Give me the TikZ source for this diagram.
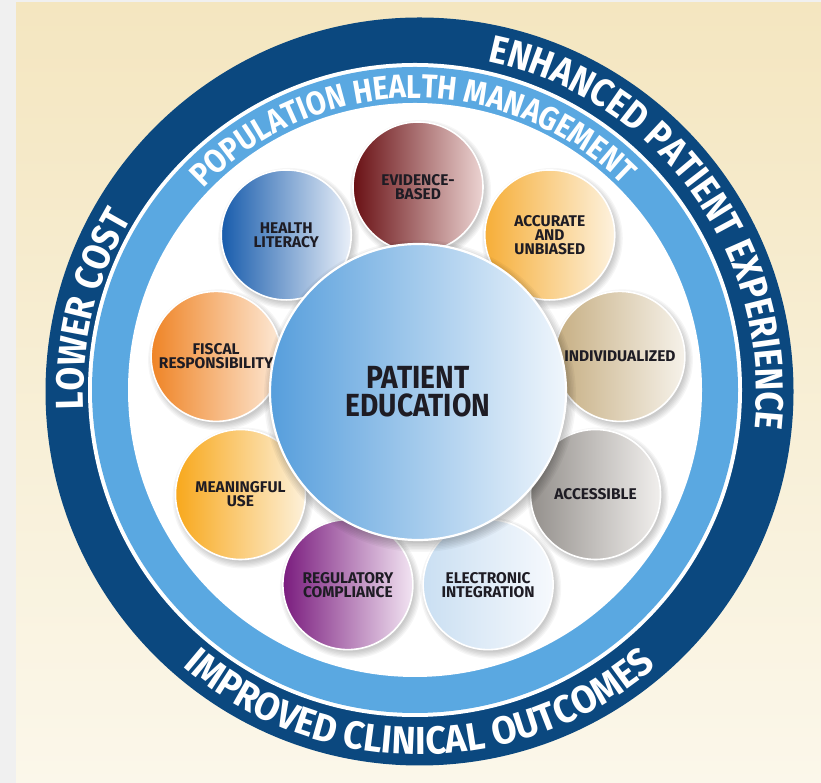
\documentclass[tikz,border=0pt]{standalone}
\usepackage{fontspec}
\newfontfamily\petalfont{Fira Sans}
\newfontfamily\ringfont[FakeStretch=0.88]{Fira Sans}
\newfontfamily\ringfontb[FakeStretch=0.93]{Fira Sans}
\usetikzlibrary{decorations.text}
\definecolor{bggray}{RGB}{240,240,240}
\definecolor{bgtop}{RGB}{244,230,192}
\definecolor{bgbot}{RGB}{251,247,234}
\definecolor{navy}{RGB}{11,72,127}
\definecolor{ltblue}{RGB}{90,168,225}
\definecolor{txtdark}{RGB}{30,28,36}
\definecolor{evL}{RGB}{105,16,20}\definecolor{evR}{RGB}{236,212,210}
\definecolor{acL}{RGB}{246,174,56}\definecolor{acR}{RGB}{253,242,222}
\definecolor{inL}{RGB}{198,174,130}\definecolor{inR}{RGB}{246,242,234}
\definecolor{asL}{RGB}{148,144,140}\definecolor{asR}{RGB}{241,239,237}
\definecolor{elL}{RGB}{202,223,242}\definecolor{elR}{RGB}{246,249,253}
\definecolor{reL}{RGB}{122,28,126}\definecolor{reR}{RGB}{242,228,242}
\definecolor{meL}{RGB}{248,168,28}\definecolor{meR}{RGB}{253,241,218}
\definecolor{fiL}{RGB}{239,132,38}\definecolor{fiR}{RGB}{253,233,214}
\definecolor{heL}{RGB}{24,92,172}\definecolor{heR}{RGB}{234,240,249}
\definecolor{ctL}{RGB}{86,158,220}\definecolor{ctR}{RGB}{240,246,252}
\begin{document}
\begin{tikzpicture}[x=1pt,y=1pt,
  petal/.style={circle, minimum size=130pt, inner sep=0pt, draw=white, line width=1.6pt,
    align=center, text=txtdark, font=\petalfont\bfseries\fontsize{15.5}{14}\selectfont},
  ringtext/.style={decorate, decoration={text along path, text align=center, text color=white, text={#1}}}
]
\useasboundingbox (0,0) rectangle (821,783);
\fill[bggray] (0,0) rectangle (821,783);
\shade[top color=bgtop, bottom color=bgbot] (16,0) rectangle (821,780);

\coordinate (C) at (418,391);
\coordinate (N) at (419.5,391.5);
\coordinate (L) at (415,393);

\fill[navy] (N) circle (374);
\fill[white] (L) circle (327);
\fill[ltblue] (L) circle (323);
\fill[white] (L) circle (287);

% soft shadows
\foreach \ang in {90,50,10,-30,-70,-110,-150,170,130}{
  \foreach \k in {0,...,5}{
    \fill[black,opacity=0.035] ([shift={(\ang:205)}]C) ++(2.5,-3.5) circle ({64+\k*1.3});
  }
}

\node[petal, left color=evL, right color=evR] (evidence) at ([shift={(90:205)}]C) {EVIDENCE-\\BASED};
\node[petal, left color=acL, right color=acR] (accurate) at ([shift={(50:205)}]C) {ACCURATE\\AND\\UNBIASED};
\node[petal, left color=inL, right color=inR] (individual) at ([shift={(10:205)}]C) {INDIVIDUALIZED};
\node[petal, left color=asL, right color=asR] (accessible) at ([shift={(-30:205)}]C) {ACCESSIBLE};
\node[petal, left color=elL, right color=elR] (electronic) at ([shift={(-70:205)}]C) {ELECTRONIC\\INTEGRATION};
\node[petal, left color=reL, right color=reR] (regulatory) at ([shift={(-110:205)}]C) {REGULATORY\\COMPLIANCE};
\node[petal, left color=meL, right color=meR] (meaningful) at ([shift={(-150:205)}]C) {MEANINGFUL\\USE};
\node[petal, left color=fiL, right color=fiR] (fiscal) at ([shift={(170:205)}]C) {FISCAL\\RESPONSIBILITY};
\node[petal, left color=heL, right color=heR] (health) at ([shift={(130:205)}]C) {HEALTH\\LITERACY};

\foreach \k in {0,...,6}{
  \fill[black,opacity=0.035] (C) ++(2,-4) circle ({147+\k*1.5});
}
\node[circle, minimum size=296pt, inner sep=0pt, draw=white, line width=2.2pt,
  left color=ctL, right color=ctR, text=txtdark, align=center,
  font=\ringfont\bfseries\fontsize{32}{28}\selectfont] (center) at (C) {PATIENT\\EDUCATION};

\path[ringtext={|\ringfont\bfseries\fontsize{39}{39}\selectfont|ENHANCED PATIENT EXPERIENCE}]
  ([shift={(90:337)}]N) arc[start angle=90, end angle=-18, radius=337];
\path[ringtext={|\ringfont\bfseries\fontsize{39}{39}\selectfont|LOWER COST}]
  ([shift={(200:336)}]N) arc[start angle=200, end angle=132, radius=336];
\path[ringtext={|\ringfontb\bfseries\fontsize{39}{39}\selectfont|IMPROVED CLINICAL OUTCOMES}]
  ([shift={(-146:363)}]N) arc[start angle=-146, end angle=-34, radius=363];
\path[ringtext={|\ringfont\bfseries\fontsize{33}{33}\selectfont|POPULATION HEALTH MANAGEMENT}]
  ([shift={(146:292)}]L) arc[start angle=146, end angle=35, radius=292];
\end{tikzpicture}
\end{document}
